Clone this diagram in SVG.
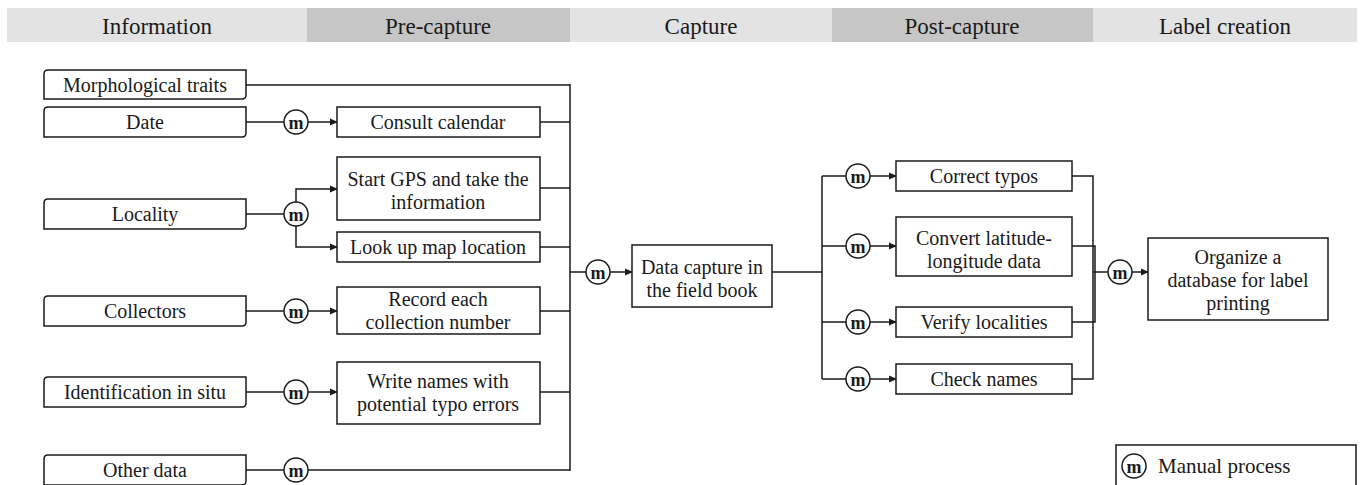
<svg xmlns="http://www.w3.org/2000/svg" width="1364" height="485" viewBox="0 0 1364 485">
<defs>
<marker id="ah" markerWidth="8" markerHeight="8" refX="7" refY="4" orient="auto" markerUnits="userSpaceOnUse">
<path d="M0,0.5 L8,4 L0,7.5 Z" fill="#1a1a1a"/>
</marker>
<g id="mc">
<circle cx="0" cy="0" r="12" fill="#fff" stroke="#1a1a1a" stroke-width="1.5"/>
<text x="0" y="0.5" class="mt">m</text>
</g>
</defs>
<style>
text{font-family:"Liberation Serif","Times New Roman",serif;fill:#1a1a1a;}
.h{font-size:23px;text-anchor:middle;dominant-baseline:central;}
.t{font-size:20px;text-anchor:middle;dominant-baseline:central;}
.mt{font-size:18px;font-weight:bold;text-anchor:middle;dominant-baseline:central;}
.box{fill:#fff;stroke:#1a1a1a;stroke-width:1.5;}
.ln{fill:none;stroke:#1a1a1a;stroke-width:1.5;}
.ar{fill:none;stroke:#1a1a1a;stroke-width:1.5;marker-end:url(#ah);}
</style>
<rect width="1364" height="485" fill="#fff"/>
<g id="header">
<rect x="7" y="8" width="300" height="34" fill="#e3e3e3"/>
<rect x="307" y="8" width="263" height="34" fill="#c6c6c6"/>
<rect x="570" y="8" width="262" height="34" fill="#e3e3e3"/>
<rect x="832" y="8" width="261" height="34" fill="#c6c6c6"/>
<rect x="1093" y="8" width="264" height="34" fill="#e3e3e3"/>
<text class="h" x="157" y="26">Information</text>
<text class="h" x="438" y="26">Pre-capture</text>
<text class="h" x="701" y="26">Capture</text>
<text class="h" x="962" y="26">Post-capture</text>
<text class="h" x="1225" y="26">Label creation</text>
</g>
<g id="connectors">
<path class="ln" d="M246,85 H570"/>
<path class="ln" d="M246,122 H284"/>
<path class="ar" d="M308,122 H337"/>
<path class="ln" d="M540,122 H570"/>
<path class="ln" d="M246,214 H284"/>
<path class="ar" d="M296,202 V189 H337"/>
<path class="ar" d="M296,226 V247 H337"/>
<path class="ln" d="M540,188 H570"/>
<path class="ln" d="M540,247 H570"/>
<path class="ln" d="M246,311 H284"/>
<path class="ar" d="M308,311 H337"/>
<path class="ln" d="M540,311 H570"/>
<path class="ln" d="M246,392 H284"/>
<path class="ar" d="M308,392 H337"/>
<path class="ln" d="M540,392 H570"/>
<path class="ln" d="M246,470 H284"/>
<path class="ln" d="M308,470 H570"/>
<path class="ln" d="M570,84 V471"/>
<path class="ln" d="M570,272 H586"/>
<path class="ar" d="M610,272 H632"/>
<path class="ln" d="M772,272 H822"/>
<path class="ln" d="M822,176 V379"/>
<path class="ln" d="M822,176 H846"/>
<path class="ln" d="M822,246 H846"/>
<path class="ln" d="M822,322 H846"/>
<path class="ln" d="M822,379 H846"/>
<path class="ar" d="M870,176 H896"/>
<path class="ar" d="M870,246 H896"/>
<path class="ar" d="M870,322 H896"/>
<path class="ar" d="M870,379 H896"/>
<path class="ln" d="M1072,176 H1093 V379 H1072"/>
<path class="ln" d="M1072,246 H1095 V322 H1072"/>
<path class="ln" d="M1093,272 H1108"/>
<path class="ar" d="M1132,272 H1148"/>
</g>
<g id="morph"><path class="box" d="M48,70 H246 V95 Q246,99 242,99 H44 V74 Q44,70 48,70 Z"/><text class="t" x="145" y="85">Morphological traits</text></g>
<g id="date"><path class="box" d="M48,107 H246 V133 Q246,137 242,137 H44 V111 Q44,107 48,107 Z"/><text class="t" x="145" y="122">Date</text></g>
<g id="locality"><path class="box" d="M48,199 H246 V225 Q246,229 242,229 H44 V203 Q44,199 48,199 Z"/><text class="t" x="145" y="214">Locality</text></g>
<g id="collectors"><path class="box" d="M48,296 H246 V322 Q246,326 242,326 H44 V300 Q44,296 48,296 Z"/><text class="t" x="145" y="311">Collectors</text></g>
<g id="ident"><path class="box" d="M48,377 H246 V403 Q246,407 242,407 H44 V381 Q44,377 48,377 Z"/><text class="t" x="145" y="392">Identification in situ</text></g>
<g id="other"><path class="box" d="M48,455 H246 V481 Q246,485 242,485 H44 V459 Q44,455 48,455 Z"/><text class="t" x="145" y="470">Other data</text></g>
<g id="m-date"><use href="#mc" x="296" y="122"/></g>
<g id="m-loc"><use href="#mc" x="296" y="214"/></g>
<g id="m-col"><use href="#mc" x="296" y="311"/></g>
<g id="m-id"><use href="#mc" x="296" y="392"/></g>
<g id="m-oth"><use href="#mc" x="296" y="470"/></g>
<g id="calendar"><rect class="box" x="337" y="107" width="203" height="30"/><text class="t" x="438" y="122">Consult calendar</text></g>
<g id="gps"><rect class="box" x="337" y="157" width="203" height="63"/><text class="t" x="438" y="179">Start GPS and take the</text><text class="t" x="438" y="202">information</text></g>
<g id="map"><rect class="box" x="337" y="232" width="203" height="30"/><text class="t" x="438" y="247">Look up map location</text></g>
<g id="record"><rect class="box" x="337" y="287" width="203" height="47"/><text class="t" x="438" y="299">Record each</text><text class="t" x="438" y="322">collection number</text></g>
<g id="write"><rect class="box" x="337" y="362" width="203" height="62"/><text class="t" x="438" y="381">Write names with</text><text class="t" x="438" y="404">potential typo errors</text></g>
<g id="m-cap"><use href="#mc" x="598" y="272"/></g>
<g id="capture"><rect class="box" x="632" y="245" width="140" height="62"/><text class="t" x="702" y="267">Data capture in</text><text class="t" x="702" y="290">the field book</text></g>
<g id="m-p1"><use href="#mc" x="858" y="176"/></g>
<g id="m-p2"><use href="#mc" x="858" y="246"/></g>
<g id="m-p3"><use href="#mc" x="858" y="322"/></g>
<g id="m-p4"><use href="#mc" x="858" y="379"/></g>
<g id="typos"><rect class="box" x="896" y="161" width="176" height="30"/><text class="t" x="984" y="176">Correct typos</text></g>
<g id="convert"><rect class="box" x="896" y="217" width="176" height="59"/><text class="t" x="984" y="238">Convert latitude-</text><text class="t" x="984" y="261">longitude data</text></g>
<g id="verify"><rect class="box" x="896" y="307" width="176" height="30"/><text class="t" x="984" y="322">Verify localities</text></g>
<g id="check"><rect class="box" x="896" y="364" width="176" height="30"/><text class="t" x="984" y="379">Check names</text></g>
<g id="m-lab"><use href="#mc" x="1120" y="272"/></g>
<g id="organize"><rect class="box" x="1148" y="238" width="180" height="82"/><text class="t" x="1238" y="257">Organize a</text><text class="t" x="1238" y="280">database for label</text><text class="t" x="1238" y="303">printing</text></g>
<g id="legend"><rect class="box" x="1116" y="445" width="240" height="44"/><use href="#mc" x="1134" y="466"/><text x="1158" y="466" style="font-size:21px;dominant-baseline:central">Manual process</text></g>
</svg>
